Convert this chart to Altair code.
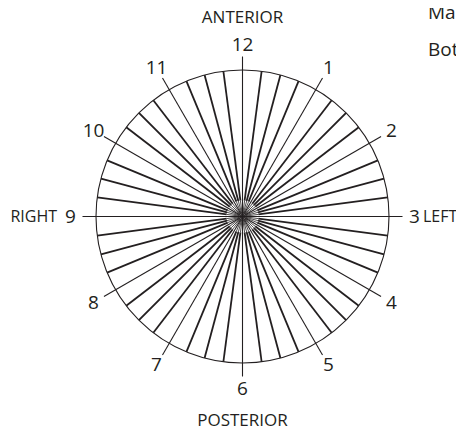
import altair as alt
import pandas as pd

# ---- data ----
HOURS = ["12", "1", "2", "3", "4", "5", "6", "7", "8", "9", "10", "11"]
SPOKES_PER_HOUR = 4            # one hour spoke + three between
DIRECTIONS = ["ANTERIOR", "LEFT", "POSTERIOR", "RIGHT"]
NOTES = ["Ma", "Bot"]

# ---- layout (pixel units, centre of the dial at 0,0) ----
W, H = 448, 424
CX, CY = 234.5, 208.5
R_CIRCLE = 146.5
R_HOUR = 160
R_MINOR_IN = 3
R_MINOR_MID = 16
R_LABEL = 172
FONT = "Open Sans"
INK = "#231f20"

n_spokes = len(HOURS) * SPOKES_PER_HOUR
spokes = pd.DataFrame({
    "a": [i * 360 / n_spokes for i in range(n_spokes)],
    "hour": [i % SPOKES_PER_HOUR == 0 for i in range(n_spokes)],
})

hours = pd.DataFrame({"label": HOURS, "a": [i * 30 for i in range(len(HOURS))]})

xs = alt.Scale(domain=[-CX, W - CX], range=[0, W], nice=False, zero=False)
ys = alt.Scale(domain=[-(H - CY), CY], range=[H, 0], nice=False, zero=False)
X = lambda f: alt.X(f, type="quantitative", scale=xs, axis=None)
Y = lambda f: alt.Y(f, type="quantitative", scale=ys, axis=None)


def spoke_layer(filt, r0, r1, width):
    return alt.Chart(spokes).transform_filter(filt).transform_calculate(
        x0=f"{r0}*sin(datum.a*PI/180)",
        y0=f"{r0}*cos(datum.a*PI/180)",
        x1=f"{r1}*sin(datum.a*PI/180)",
        y1=f"{r1}*cos(datum.a*PI/180)",
    ).mark_rule(color=INK, strokeWidth=width).encode(
        x=X("x0:Q"), y=Y("y0:Q"), x2="x1:Q", y2="y1:Q"
    )


minor_in = spoke_layer("!datum.hour", R_MINOR_IN, R_MINOR_MID, 0.8)
minor = spoke_layer("!datum.hour", R_MINOR_MID, R_CIRCLE, 1.8)
major = spoke_layer("datum.hour", 0, R_HOUR, 1.1)

circle = alt.Chart(pd.DataFrame({"x": [0], "y": [0]})).mark_point(
    shape="circle", size=(2 * R_CIRCLE) ** 2, filled=False,
    stroke=INK, strokeWidth=1.1, opacity=1,
).encode(x=X("x:Q"), y=Y("y:Q"))

hour_text = alt.Chart(hours).transform_calculate(
    x=f"{R_LABEL}*sin(datum.a*PI/180)",
    y=f"{R_LABEL}*cos(datum.a*PI/180)",
).mark_text(font=FONT, fontSize=19, color=INK, align="center", baseline="middle").encode(
    x=X("x:Q"), y=Y("y:Q"), text="label:N"
)

dir_df = pd.DataFrame({
    "label": DIRECTIONS,
    "x": [0, 180.5, 0, -185.5],
    "y": [199, 0, -204.5, 0],
    "al": ["center", "left", "center", "right"],
    "fs": [17, 16, 17, 16],
})
def dir_layer(al):
    return alt.Chart(dir_df).transform_filter(f"datum.al=='{al}'").mark_text(
        font=FONT, color=INK, align=al, baseline="middle"
    ).encode(x=X("x:Q"), y=Y("y:Q"), text="label:N",
             size=alt.Size("fs:Q", scale=None, legend=None))

notes_df = pd.DataFrame({"label": NOTES, "x": [185.5, 185.5], "y": [203.5, 166.5]})
notes = alt.Chart(notes_df).mark_text(
    font=FONT, fontSize=19, color=INK, align="left", baseline="middle"
).encode(x=X("x:Q"), y=Y("y:Q"), text="label:N")

chart = alt.layer(
    minor_in, minor, major, circle, hour_text,
    dir_layer("center"), dir_layer("left"), dir_layer("right"), notes,
).properties(
    width=W, height=H, autosize=alt.AutoSizeParams(type="none"), padding=0,
).configure_view(stroke=None)

chart.save("out.html", embed_options={"renderer": "svg", "actions": False})
